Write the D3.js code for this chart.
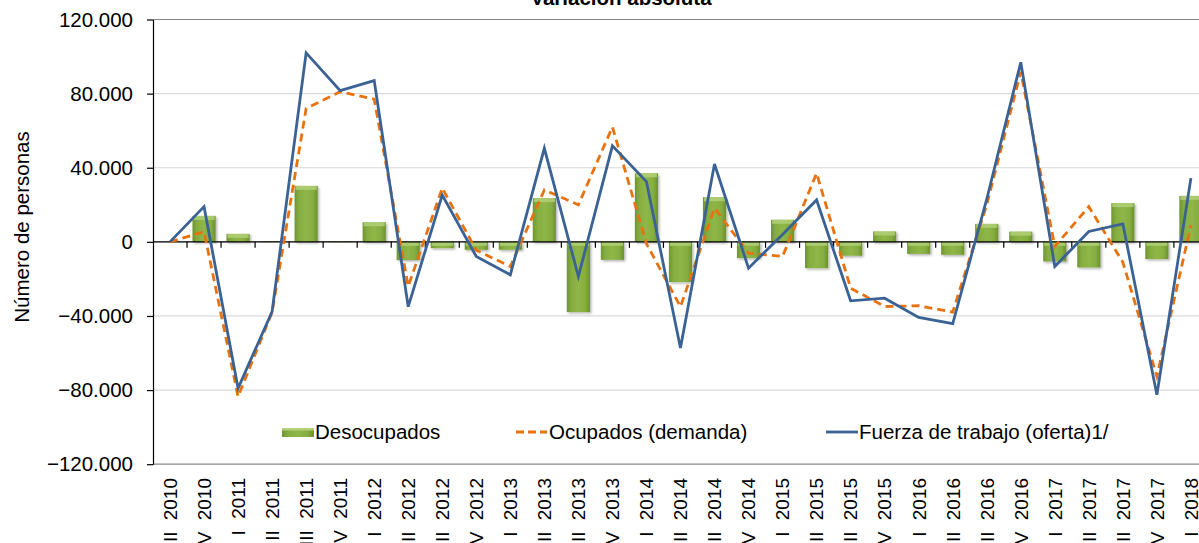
<!DOCTYPE html>
<html><head><meta charset="utf-8">
<script src="https://cdn.jsdelivr.net/npm/d3@7"></script>
<style>body{margin:0;background:#fff;} svg{display:block;font-family:"Liberation Sans",Arial,sans-serif;}</style>
</head><body>
<svg id="c" width="1199" height="543"></svg>
<script>
const categories = ["III 2010","IV 2010","I 2011","II 2011","III 2011","IV 2011","I 2012","II 2012","III 2012","IV 2012","I 2013","II 2013","III 2013","IV 2013","I 2014","II 2014","III 2014","IV 2014","I 2015","II 2015","III 2015","IV 2015","I 2016","II 2016","III 2016","IV 2016","I 2017","II 2017","III 2017","IV 2017","I 2018"];
const desocupados = [0,14000,4300,300,30200,400,10600,-9800,-3400,-4300,-4300,23600,-37900,-9700,37000,-21700,24100,-8800,11900,-14200,-7500,5600,-6500,-7000,9700,5500,-10600,-13800,20900,-9300,24800];
const ocupados = [0,5500,-83500,-38000,72000,81000,77000,-24000,29000,-4500,-13300,28000,20000,62000,-1000,-35000,18200,-6100,-7900,37000,-25000,-34900,-34500,-37900,20000,91800,-2500,19000,-11000,-72600,9000];
const fuerza = [0,19000,-79000,-37600,102000,81600,87000,-35000,25300,-7900,-17800,50500,-18700,51800,32500,-57300,42000,-14200,4000,22600,-31800,-30400,-40800,-44200,23000,96900,-13300,5600,9700,-82500,34400];
const yTicks = [-120000,-80000,-40000,0,40000,80000,120000];
const title = "Variación absoluta";
const yLabel = "Número de personas";
const legendLabels = ["Desocupados","Ocupados (demanda)","Fuerza de trabajo (oferta)1/"];

const svg = d3.select("#c");
const x0 = 153, step = 34.03;
const x = d3.scaleBand().domain(categories).range([x0, x0 + step*categories.length]).paddingInner(0.32).paddingOuter(0.16);
const y = d3.scaleLinear().domain([-120000,120000]).range([464.2,19.5]);
const fmt = v => d3.format(",")(v).replace(/,/g,".");

const defs = svg.append("defs");
const g1 = defs.append("linearGradient").attr("id","barg").attr("x1","0").attr("x2","1").attr("y1","0").attr("y2","0");
g1.append("stop").attr("offset","0").attr("stop-color","#6f9533");
g1.append("stop").attr("offset","0.2").attr("stop-color","#86ad40");
g1.append("stop").attr("offset","0.5").attr("stop-color","#8fb647");
g1.append("stop").attr("offset","0.8").attr("stop-color","#86ad40");
g1.append("stop").attr("offset","1").attr("stop-color","#6b9030");
const f = defs.append("filter").attr("id","sh").attr("x","-20%").attr("y","-20%").attr("width","150%").attr("height","150%");
f.append("feDropShadow").attr("dx",1.5).attr("dy",1.5).attr("stdDeviation",1.2).attr("flood-color","#000").attr("flood-opacity",0.3);

// gridlines
svg.append("g").selectAll("line").data(yTicks).join("line")
  .attr("x1",x0).attr("x2",1199).attr("y1",d=>y(d)).attr("y2",d=>y(d))
  .attr("stroke",d=> (d===120000||d===-120000) ? "#868686" : "#d9d9d9").attr("stroke-width",1.2);

// y axis
const ya = svg.append("g").attr("transform",`translate(${x0},0)`)
  .call(d3.axisLeft(y).tickValues(yTicks).tickFormat(fmt).tickSize(6).tickSizeOuter(0));
ya.select(".domain").attr("stroke","#000").attr("stroke-width",1.2);
ya.selectAll(".tick line").attr("stroke","#000").attr("stroke-width",1.2);
ya.selectAll(".tick text").attr("font-size","20.5px").attr("fill","#000").attr("font-family","Liberation Sans, Arial, sans-serif").attr("x",-20);

// bars
const bars = svg.append("g");
bars.selectAll("rect.b").data(categories).join("rect").attr("class","b")
  .attr("x",d=>x(d)).attr("width",x.bandwidth())
  .attr("y",(d,i)=>Math.min(y(desocupados[i]),y(0)))
  .attr("height",(d,i)=>Math.abs(y(desocupados[i])-y(0)))
  .attr("fill","url(#barg)").attr("filter","url(#sh)");
bars.selectAll("rect.c").data(categories).join("rect").attr("class","c")
  .attr("x",d=>x(d)+1).attr("width",x.bandwidth()-2)
  .attr("y",(d,i)=>Math.min(y(desocupados[i]),y(0)))
  .attr("height",(d,i)=>Math.min(4,Math.abs(y(desocupados[i])-y(0))))
  .attr("fill","#b3d27a").attr("opacity",0.8);

// zero axis
svg.append("line").attr("x1",x0).attr("x2",1199).attr("y1",y(0)).attr("y2",y(0)).attr("stroke","#000").attr("stroke-width",1.2);
svg.append("g").selectAll("line").data(d3.range(1,categories.length+1)).join("line")
  .attr("x1",i=>x0+step*i).attr("x2",i=>x0+step*i).attr("y1",y(0)).attr("y2",y(0)+6)
  .attr("stroke","#000").attr("stroke-width",1.2);

// lines
const cx = d => x(d)+x.bandwidth()/2;
const line = arr => d3.line().x((d,i)=>cx(categories[i])).y((d,i)=>y(arr[i]));
svg.append("path").datum(ocupados).attr("d",line(ocupados)).attr("fill","none")
  .attr("stroke","#e8720f").attr("stroke-width",2.8).attr("stroke-dasharray","8,5");
svg.append("path").datum(fuerza).attr("d",line(fuerza)).attr("fill","none")
  .attr("stroke","#3b6295").attr("stroke-width",2.8).attr("stroke-linejoin","miter");

// x labels
svg.append("g").selectAll("text").data(categories).join("text")
  .attr("transform",d=>`translate(${cx(d)},478) rotate(-90)`)
  .attr("text-anchor","end").attr("dy","0.36em").attr("font-size","19px").attr("word-spacing","6px").attr("fill","#000").text(d=>d);

// title
svg.append("text").attr("x",621).attr("y",5).attr("text-anchor","middle").attr("font-weight","bold").attr("font-size","20.5px").text(title);

// y label
svg.append("text").attr("transform","translate(29,227) rotate(-90)").attr("text-anchor","middle").attr("font-size","20.5px").text(yLabel);

// legend
const lg = svg.append("g");
lg.append("rect").attr("x",282).attr("y",428).attr("width",32).attr("height",9).attr("fill","url(#barg)");
lg.append("rect").attr("x",282).attr("y",428).attr("width",32).attr("height",2.5).attr("fill","#b3d27a");
lg.append("text").attr("x",315).attr("y",439).attr("font-size","20.5px").text(legendLabels[0]);
lg.append("line").attr("x1",516).attr("x2",547).attr("y1",432).attr("y2",432).attr("stroke","#e8720f").attr("stroke-width",2.8).attr("stroke-dasharray","8,4");
lg.append("text").attr("x",549).attr("y",439).attr("font-size","20.5px").text(legendLabels[1]);
lg.append("line").attr("x1",826).attr("x2",858).attr("y1",432).attr("y2",432).attr("stroke","#3b6295").attr("stroke-width",2.8);
lg.append("text").attr("x",859).attr("y",439).attr("font-size","20.5px").text(legendLabels[2]);
</script>
</body></html>
